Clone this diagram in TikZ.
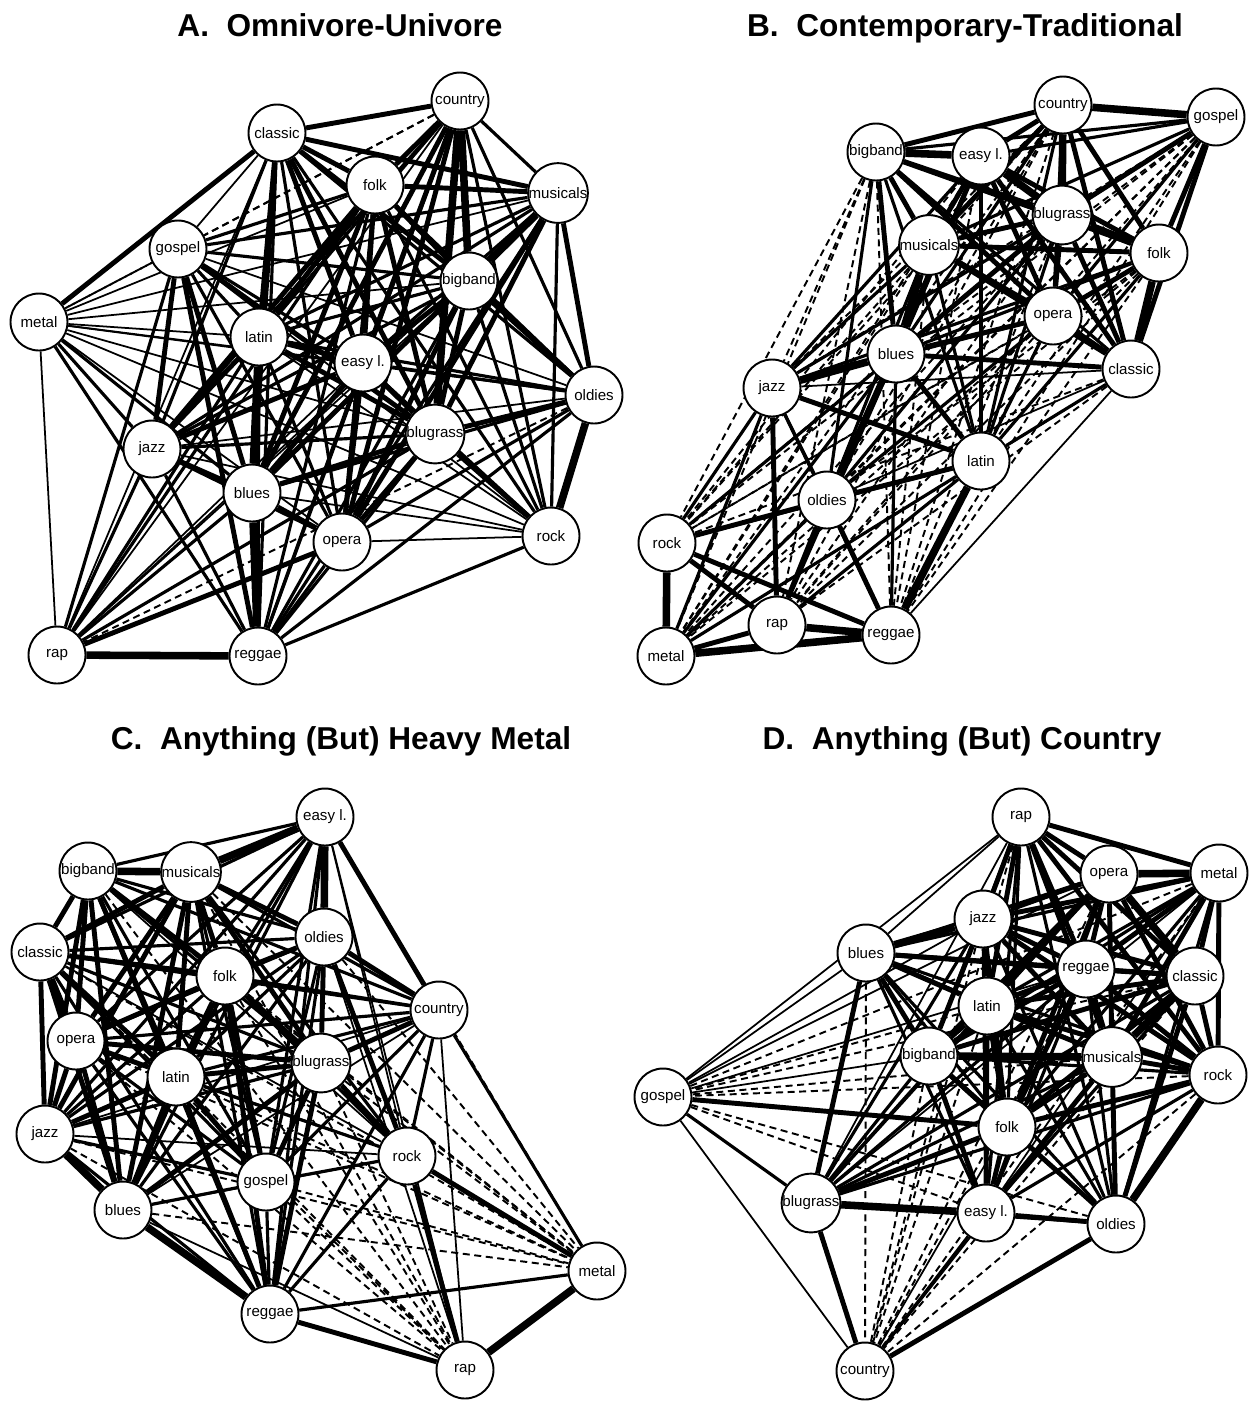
\documentclass[tikz,border=0pt]{standalone}
\usepackage{fontspec}
\setmainfont{Liberation Sans}
\pgfdeclarelayer{bgl}
\pgfdeclarelayer{edges}
\pgfsetlayers{bgl,edges,main}
\begin{document}
\begin{tikzpicture}[x=0.02cm,y=-0.02cm,
  nd/.style={circle,draw,line width=1.1pt,fill=white,minimum size=1.14cm,inner sep=0pt,font=\fontsize{8.6}{9}\selectfont},
  ttl/.style={font=\fontsize{18}{22}\selectfont\bfseries,anchor=base},
  e1/.style={line width=1.0pt},
  e2/.style={line width=1.8pt},
  e3/.style={line width=2.8pt},
  e4/.style={line width=4.3pt},
  ed/.style={line width=1.1pt,dash pattern=on 4pt off 2.6pt}]
\useasboundingbox (0,0) rectangle (1249,1401);
\begin{pgfonlayer}{bgl}
\fill[white] (0,0) rectangle (1249,1401);
\end{pgfonlayer}

% titles
\node[ttl] (tA) at (340,36) {A.\ \ Omnivore-Univore};
\node[ttl] (tB) at (965,36) {B.\ \ Contemporary-Traditional};
\node[ttl] (tC) at (341,749) {C.\ \ Anything (But) Heavy Metal};
\node[ttl] (tD) at (962,749) {D.\ \ Anything (But) Country};

% ---------------- Panel A ----------------
\node[nd] (Aco) at (460,101) {country};
\node[nd] (Acl) at (277,133) {classic};
\node[nd] (Afo) at (375,185) {folk};
\node[nd] (Amu) at (558,193) {musicals};
\node[nd] (Ago) at (178,249) {gospel};
\node[nd] (Abb) at (469,281) {bigband};
\node[nd] (Ame) at (39,322) {metal};
\node[nd] (Ala) at (259,337) {latin};
\node[nd] (Ael) at (363,363) {easy l.};
\node[nd] (Aol) at (594,395) {oldies};
\node[nd] (Aja) at (152,449) {jazz};
\node[nd] (Abg) at (435,434) {blugrass};
\node[nd] (Abl) at (252,493) {blues};
\node[nd] (Aop) at (342,542) {opera};
\node[nd] (Aro) at (551,536) {rock};
\node[nd] (Ara) at (57,655) {rap};
\node[nd] (Are) at (258,656) {reggae};

% ---------------- Panel B ----------------
\node[nd] (Bco) at (1063,105) {country};
\node[nd] (Bgo) at (1216,117) {gospel};
\node[nd] (Bbb) at (876,152) {bigband};
\node[nd] (Bel) at (981,156) {easy l.};
\node[nd] (Bbg) at (1062,215) {blugrass};
\node[nd] (Bmu) at (929,245) {musicals};
\node[nd] (Bfo) at (1159,253) {folk};
\node[nd] (Bop) at (1053,316) {opera};
\node[nd] (Bbl) at (896,354) {blues};
\node[nd] (Bcl) at (1131,369) {classic};
\node[nd] (Bja) at (772,388) {jazz};
\node[nd] (Bla) at (981,461) {latin};
\node[nd] (Bol) at (827,500) {oldies};
\node[nd] (Bro) at (667,543) {rock};
\node[nd] (Bra) at (777,625) {rap};
\node[nd] (Bre) at (891,635) {reggae};
\node[nd] (Bme) at (666,656) {metal};

% ---------------- Panel C ----------------
\node[nd] (Cel) at (325,817) {easy l.};
\node[nd] (Cbb) at (88,871) {bigband};
\node[nd] (Cmu) at (191,872) {musicals};
\node[nd] (Ccl) at (40,952) {classic};
\node[nd] (Col) at (324,937) {oldies};
\node[nd] (Cfo) at (225,976) {folk};
\node[nd] (Cco) at (439,1010) {country};
\node[nd] (Cop) at (76,1041) {opera};
\node[nd] (Cla) at (176,1077) {latin};
\node[nd] (Cbg) at (321,1063) {blugrass};
\node[nd] (Cja) at (45,1134) {jazz};
\node[nd] (Cro) at (407,1156) {rock};
\node[nd] (Cgo) at (266,1182) {gospel};
\node[nd] (Cbl) at (123,1210) {blues};
\node[nd] (Cme) at (597,1271) {metal};
\node[nd] (Cre) at (270,1314) {reggae};
\node[nd] (Cra) at (465,1370) {rap};

% ---------------- Panel D ----------------
\node[nd] (Dra) at (1021,817) {rap};
\node[nd] (Dop) at (1109,874) {opera};
\node[nd] (Dme) at (1219,873) {metal};
\node[nd] (Dja) at (983,919) {jazz};
\node[nd] (Dbl) at (866,953) {blues};
\node[nd] (Dre) at (1086,969) {reggae};
\node[nd] (Dcl) at (1195,976) {classic};
\node[nd] (Dla) at (987,1006) {latin};
\node[nd] (Dbb) at (929,1056) {bigband};
\node[nd] (Dmu) at (1112,1057) {musicals};
\node[nd] (Dro) at (1218,1075) {rock};
\node[nd] (Dgo) at (663,1097) {gospel};
\node[nd] (Dfo) at (1007,1127) {folk};
\node[nd] (Dbg) at (811,1203) {blugrass};
\node[nd] (Del) at (986,1213) {easy l.};
\node[nd] (Dol) at (1116,1224) {oldies};
\node[nd] (Dco) at (865,1371) {country};

\begin{pgfonlayer}{edges}
% Panel A edges
\foreach \a/\b/\w in {co/cl/3, co/fo/3, co/mu/2, co/go/d, co/bb/4, co/me/d, co/la/2, co/el/3, co/ol/2, co/ja/2, co/bg/4, co/bl/3, co/op/3, co/ro/2, co/ra/1, co/re/2,
cl/fo/3, cl/mu/3, cl/go/1, cl/bb/3, cl/me/3, cl/la/3, cl/el/3, cl/ol/2, cl/ja/2, cl/bg/3, cl/bl/3, cl/op/2, cl/ro/2, cl/ra/1, cl/re/2,
fo/mu/3, fo/go/2, fo/bb/3, fo/me/1, fo/la/3, fo/el/3, fo/ol/2, fo/ja/3, fo/bg/3, fo/bl/3, fo/op/2, fo/ro/2, fo/ra/2, fo/re/2,
mu/go/2, mu/bb/4, mu/me/1, mu/la/2, mu/el/2, mu/ol/3, mu/ja/2, mu/bg/3, mu/bl/2, mu/op/3, mu/ro/2, mu/ra/1, mu/re/2,
go/bb/2, go/me/d, go/la/2, go/el/2, go/ol/1, go/ja/3, go/bg/3, go/bl/3, go/op/2, go/ro/1, go/ra/2, go/re/3,
bb/me/1, bb/la/2, bb/el/3, bb/ol/3, bb/ja/2, bb/bg/3, bb/bl/3, bb/op/3, bb/ro/2, bb/ra/1, bb/re/2,
me/la/1, me/el/1, me/ol/1, me/ja/2, me/bg/1, me/bl/2, me/op/1, me/ro/1, me/ra/1, me/re/2,
la/el/3, la/ol/2, la/ja/3, la/bg/3, la/bl/4, la/op/2, la/ro/1, la/ra/2, la/re/2,
el/ol/2, el/ja/3, el/bg/3, el/bl/3, el/op/3, el/ro/2, el/ra/1, el/re/2,
ol/ja/1, ol/bg/3, ol/bl/2, ol/op/2, ol/ro/4, ol/ra/d, ol/re/2,
ja/bg/2, ja/bl/3, ja/op/2, ja/ro/1, ja/ra/2, ja/re/2,
bg/bl/3, bg/op/3, bg/ro/3, bg/ra/2, bg/re/2,
bl/op/3, bl/ro/1, bl/ra/2, bl/re/4,
op/ro/1, op/ra/3, op/re/2,
ro/re/2,
ra/re/4}
  \draw[e\w] (A\a) -- (A\b);
% Panel B edges
\foreach \a/\b/\w in {co/go/4, co/bb/3, co/el/3, co/bg/4, co/mu/3, co/fo/3, co/op/2, co/bl/2, co/cl/3, co/ja/d, co/la/2, co/ol/d, co/ro/d, co/ra/d, co/re/d, co/me/d,
go/bb/2, go/el/2, go/bg/3, go/mu/2, go/fo/3, go/op/2, go/bl/d, go/cl/3, go/ja/d, go/la/d, go/ol/d, go/ro/d, go/ra/d, go/re/d, go/me/d,
bb/el/4, bb/bg/3, bb/mu/3, bb/fo/3, bb/op/3, bb/bl/3, bb/cl/2, bb/ja/d, bb/la/2, bb/ol/2, bb/ro/d, bb/ra/d, bb/re/d, bb/me/d,
el/bg/4, el/mu/3, el/fo/3, el/op/3, el/bl/3, el/cl/3, el/ja/2, el/la/2, el/ol/2, el/ro/d, el/ra/d, el/re/d, el/me/d,
bg/mu/3, bg/fo/4, bg/op/3, bg/bl/3, bg/cl/3, bg/ja/2, bg/la/2, bg/ol/2, bg/ro/d, bg/ra/d, bg/re/d, bg/me/d,
mu/fo/3, mu/op/3, mu/bl/4, mu/cl/3, mu/ja/2, mu/la/2, mu/ol/2, mu/ro/d, mu/ra/d, mu/re/d, mu/me/d,
fo/op/3, fo/bl/2, fo/cl/4, fo/ja/2, fo/la/2, fo/ol/d, fo/ro/d, fo/ra/d, fo/re/d, fo/me/d,
op/bl/3, op/cl/3, op/ja/2, op/la/2, op/ol/2, op/ro/d, op/ra/d, op/re/d, op/me/d,
bl/cl/3, bl/ja/4, bl/la/3, bl/ol/3, bl/ro/2, bl/ra/2, bl/re/2, bl/me/2,
cl/ja/1, cl/la/2, cl/ol/1, cl/ro/d, cl/ra/d, cl/re/1, cl/me/d,
ja/la/3, ja/ol/2, ja/ro/2, ja/ra/3, ja/re/2, ja/me/2,
la/ol/3, la/ro/2, la/ra/2, la/re/4, la/me/2,
ol/ro/3, ol/ra/3, ol/re/3, ol/me/2,
ro/ra/3, ro/re/3, ro/me/4,
ra/re/4, ra/me/3,
re/me/4}
  \draw[e\w] (B\a) -- (B\b);
% Panel C edges
\foreach \a/\b/\w in {el/bb/2, el/mu/4, el/cl/2, el/ol/4, el/fo/2, el/co/3, el/op/2, el/la/2, el/bg/1, el/ja/2, el/ro/1, el/go/2, el/bl/2, el/me/d, el/re/2, el/ra/1,
bb/mu/4, bb/cl/3, bb/ol/2, bb/fo/3, bb/co/2, bb/op/3, bb/la/3, bb/bg/2, bb/ja/3, bb/ro/1, bb/go/2, bb/bl/3, bb/me/d, bb/re/2, bb/ra/d,
mu/cl/3, mu/ol/3, mu/fo/3, mu/co/2, mu/op/3, mu/la/3, mu/bg/3, mu/ja/3, mu/ro/2, mu/go/2, mu/bl/3, mu/me/d, mu/re/2, mu/ra/d,
cl/ol/2, cl/fo/3, cl/co/2, cl/op/4, cl/la/3, cl/bg/2, cl/ja/3, cl/ro/1, cl/go/2, cl/bl/3, cl/me/d, cl/re/2, cl/ra/d,
ol/fo/3, ol/co/3, ol/op/2, ol/la/2, ol/bg/3, ol/ja/2, ol/ro/3, ol/go/2, ol/bl/2, ol/me/d, ol/re/2, ol/ra/1,
fo/co/2, fo/op/3, fo/la/3, fo/bg/3, fo/ja/2, fo/ro/2, fo/go/3, fo/bl/3, fo/me/d, fo/re/3, fo/ra/d,
co/op/2, co/la/2, co/bg/3, co/ja/1, co/ro/2, co/go/2, co/bl/1, co/me/2, co/re/2, co/ra/1,
op/la/3, op/bg/3, op/ja/3, op/ro/1, op/go/2, op/bl/3, op/me/d, op/re/2, op/ra/d,
la/bg/3, la/ja/3, la/ro/2, la/go/3, la/bl/3, la/me/d, la/re/3, la/ra/d,
bg/ja/2, bg/ro/3, bg/go/3, bg/bl/3, bg/me/d, bg/re/3, bg/ra/d,
ja/ro/1, ja/go/2, ja/bl/4, ja/me/d, ja/re/2, ja/ra/d,
ro/go/2, ro/bl/1, ro/me/3, ro/re/2, ro/ra/3,
go/bl/2, go/me/d, go/re/2, go/ra/d,
bl/me/d, bl/re/4, bl/ra/1,
me/re/2, me/ra/4,
re/ra/3}
  \draw[e\w] (C\a) -- (C\b);
% Panel D edges
\foreach \a/\b/\w in {ra/op/3, ra/me/3, ra/ja/3, ra/bl/1, ra/re/3, ra/cl/3, ra/la/3, ra/bb/2, ra/mu/3, ra/ro/3, ra/go/1, ra/fo/2, ra/bg/1, ra/el/2, ra/ol/2, ra/co/d,
op/me/4, op/ja/3, op/bl/2, op/re/3, op/cl/4, op/la/3, op/bb/3, op/mu/3, op/ro/3, op/go/1, op/fo/3, op/bg/2, op/el/2, op/ol/2, op/co/d,
me/ja/3, me/bl/2, me/re/3, me/cl/3, me/la/2, me/bb/2, me/mu/3, me/ro/3, me/go/d, me/fo/2, me/bg/1, me/el/1, me/ol/2, me/co/d,
ja/bl/4, ja/re/3, ja/cl/3, ja/la/3, ja/bb/3, ja/mu/3, ja/ro/3, ja/go/1, ja/fo/3, ja/bg/2, ja/el/2, ja/ol/2, ja/co/d,
bl/re/3, bl/cl/3, bl/la/3, bl/bb/3, bl/mu/2, bl/ro/2, bl/go/1, bl/fo/2, bl/bg/3, bl/el/2, bl/ol/2, bl/co/d,
re/cl/3, re/la/3, re/bb/3, re/mu/3, re/ro/3, re/go/1, re/fo/3, re/bg/2, re/el/2, re/ol/2, re/co/d,
cl/la/3, cl/bb/3, cl/mu/4, cl/ro/3, cl/go/d, cl/fo/3, cl/bg/2, cl/el/2, cl/ol/3, cl/co/d,
la/bb/3, la/mu/3, la/ro/3, la/go/d, la/fo/3, la/bg/2, la/el/3, la/ol/2, la/co/d,
bb/mu/4, bb/ro/2, bb/go/1, bb/fo/3, bb/bg/2, bb/el/3, bb/ol/3, bb/co/d,
mu/ro/3, mu/go/d, mu/fo/3, mu/bg/2, mu/el/3, mu/ol/3, mu/co/1,
ro/go/d, ro/fo/3, ro/bg/2, ro/el/2, ro/ol/4, ro/co/d,
go/fo/3, go/bg/2, go/el/d, go/ol/d, go/co/1,
fo/bg/3, fo/el/3, fo/ol/2, fo/co/1,
bg/el/4, bg/ol/2, bg/co/3,
el/ol/3, el/co/2,
ol/co/3}
  \draw[e\w] (D\a) -- (D\b);
\end{pgfonlayer}
\end{tikzpicture}
\end{document}
